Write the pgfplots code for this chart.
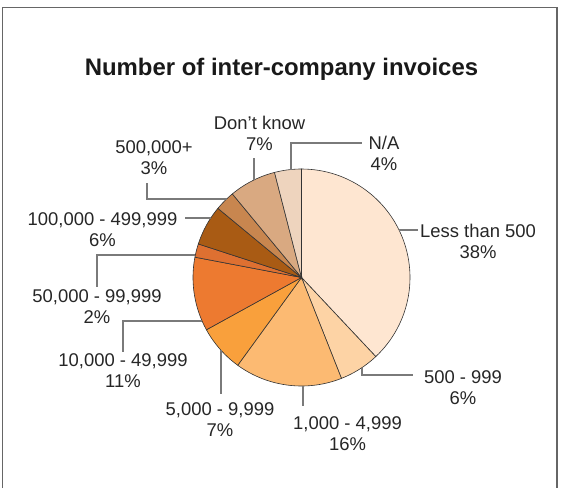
\documentclass[border=0pt]{standalone}
\usepackage{pgfplots}
\pgfplotsset{compat=1.18}
\usepackage{fontspec}
\setmainfont{Liberation Sans}
\definecolor{c1}{HTML}{FEE6D1}
\definecolor{c2}{HTML}{FDD3A5}
\definecolor{c3}{HTML}{FCBA72}
\definecolor{c4}{HTML}{F9A03C}
\definecolor{c5}{HTML}{ED7A30}
\definecolor{c6}{HTML}{DE7031}
\definecolor{c7}{HTML}{A95B14}
\definecolor{c8}{HTML}{C8864F}
\definecolor{c9}{HTML}{D9A981}
\definecolor{c10}{HTML}{EED4BE}
\definecolor{leader}{HTML}{7A7A7A}
\definecolor{framec}{HTML}{666666}
% pie centre and radius (in picture units, y downwards)
\def\cx{301.5}\def\cy{277.5}\def\rr{108.5}
% slice: cumulative start percent, cumulative end percent, colour
\newcommand{\slice}[3]{%
  \addplot[draw=black!80, line width=0.6pt, fill=#3, domain={#1*3.6}:{#2*3.6}, samples=60, variable=\t]
    ({\cx+\rr*sin(\t)}, {\cy-\rr*cos(\t)}) -- (axis cs:\cx,\cy) -- cycle;}
\newcommand{\labfont}{\fontsize{18.5}{22}\selectfont}
\newcommand{\lab}[4]{%
  \node[anchor=base, inner sep=0pt, font=\labfont, text=black!85] at (axis cs:#1,#2) {#3};
  \node[anchor=base, inner sep=0pt, font=\labfont, text=black!85] at (axis cs:#1,#2+21.5) {#4};}
\begin{document}
\begin{tikzpicture}
\begin{axis}[x=1bp, y=1bp, xmin=0, xmax=561, ymin=0, ymax=488, y dir=reverse,
  axis lines=none, scale only axis, clip=false]
% full picture area (bounding box)
\path (axis cs:0,0) rectangle (axis cs:561,488);
% frame
\draw[framec, line width=1.2pt] (axis cs:2.5,488) -- (axis cs:2.5,7.5) -- (axis cs:557,7.5) -- (axis cs:557,488);
% slices (percent: 38, 6, 16, 7, 11, 2, 6, 3, 7, 4)
\slice{0}{38}{c1}
\slice{38}{44}{c2}
\slice{44}{60}{c3}
\slice{60}{67}{c4}
\slice{67}{78}{c5}
\slice{78}{80}{c6}
\slice{80}{86}{c7}
\slice{86}{89}{c8}
\slice{89}{96}{c9}
\slice{96}{100}{c10}
% title
\node[anchor=base, inner sep=0pt, font=\fontsize{24}{28}\selectfont\bfseries, text=black!90] at (axis cs:281.5,76) {Number of inter-company invoices};
% leader lines
\begin{scope}[leader, line width=1.1pt]
\draw (axis cs:291,169.5) -- (axis cs:291,143) -- (axis cs:362,143);
\draw (axis cs:399,230) -- (axis cs:418,230);
\draw (axis cs:362,367.6) -- (axis cs:362,375) -- (axis cs:413,375);
\draw (axis cs:303,386) -- (axis cs:303,406);
\draw (axis cs:221,350.2) -- (axis cs:221,394);
\draw (axis cs:202,321) -- (axis cs:123,321) -- (axis cs:123,352);
\draw (axis cs:195.4,255) -- (axis cs:97,255) -- (axis cs:97,287);
\draw (axis cs:185,218) -- (axis cs:210.8,218);
\draw (axis cs:147,183) -- (axis cs:147,199) -- (axis cs:226.6,199);
\draw (axis cs:254,158) -- (axis cs:254,180);
\end{scope}
% labels
\lab{259.5}{129}{Don’t know}{7\%}
\lab{384}{149}{N/A}{4\%}
\lab{478}{237}{Less than 500}{38\%}
\lab{463}{383}{500 - 999}{6\%}
\lab{347.5}{429}{1,000 - 4,999}{16\%}
\lab{220}{415}{5,000 - 9,999}{7\%}
\lab{123}{366}{10,000 - 49,999}{11\%}
\lab{97}{302}{50,000 - 99,999}{2\%}
\lab{102.5}{225}{100,000 - 499,999}{6\%}
\lab{154}{153}{500,000+}{3\%}
\end{axis}
\end{tikzpicture}
\end{document}
